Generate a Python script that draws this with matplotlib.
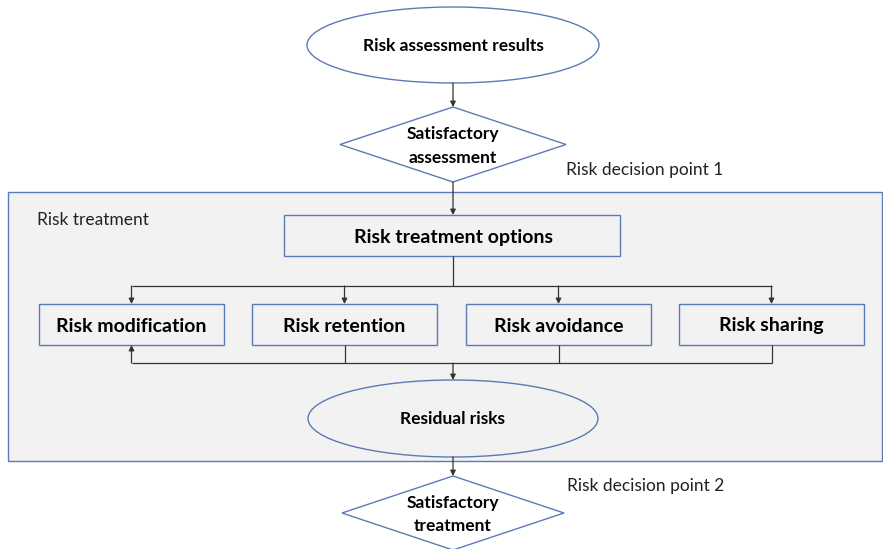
import matplotlib.pyplot as plt
from matplotlib.patches import Ellipse, Polygon, Rectangle

plt.rcParams['font.family'] = ['Lato', 'DejaVu Sans']

# node texts
start_label = 'Risk assessment results'
decision_labels = ['Satisfactory\nassessment', 'Satisfactory\ntreatment']
decision_notes = ['Risk decision point 1', 'Risk decision point 2']
group_label = 'Risk treatment'
options_label = 'Risk treatment options'
option_labels = ['Risk modification', 'Risk retention', 'Risk avoidance', 'Risk sharing']
residual_label = 'Residual risks'

EDGE = '#5b7bb4'
LINE = '#333333'
CX = 453

fig = plt.figure(figsize=(8.83, 5.49), dpi=100)
ax = fig.add_axes([0, 0, 1, 1])
ax.set_xlim(0, 883)
ax.set_ylim(549, 0)
ax.axis('off')


def arrow(x0, y0, x1, y1):
    ax.annotate('', xy=(x1, y1), xytext=(x0, y0),
                arrowprops=dict(arrowstyle='-|>', color=LINE, lw=0.9,
                                mutation_scale=8, shrinkA=0, shrinkB=0))


def line(xs, ys):
    ax.plot(xs, ys, color=LINE, lw=0.9, solid_capstyle='butt')


def diamond(cx, cy, w, h, text):
    ax.add_patch(Polygon([(cx, cy - h / 2), (cx + w / 2, cy), (cx, cy + h / 2), (cx - w / 2, cy)],
                         closed=True, facecolor='white', edgecolor=EDGE, lw=1.0, zorder=2))
    ax.text(cx, cy + 1.5, text, ha='center', va='center', fontsize=12.5, fontweight='bold',
            linespacing=1.55, zorder=3)


# group background
ax.add_patch(Rectangle((8, 192), 874, 269, facecolor='#f2f2f2', edgecolor=EDGE, lw=1.0, zorder=0))
ax.text(37, 220, group_label, ha='left', va='center', fontsize=12.5, color='#222222')

# start ellipse
ax.add_patch(Ellipse((CX, 45), 292, 76, facecolor='white', edgecolor=EDGE, lw=1.0, zorder=2))
ax.text(CX, 46, start_label, ha='center', va='center', fontsize=12.5, fontweight='bold', zorder=3)
arrow(CX, 83, CX, 107)

# decision 1
diamond(CX, 144.5, 226, 75, decision_labels[0])
ax.text(566, 170, decision_notes[0], ha='left', va='center', fontsize=12.5, color='#222222')
arrow(CX, 182, CX, 215)

# treatment options
ax.add_patch(Rectangle((284, 215), 336, 41, facecolor='none', edgecolor=EDGE, lw=1.0, zorder=2))
ax.text(CX, 237.5, options_label, ha='center', va='center', fontsize=14, fontweight='bold', zorder=3)

# option boxes
box_x = [39, 252, 466, 679]
box_w = 185
box_top, box_bot = 304, 345
centers = [x + box_w / 2 for x in box_x]
for x, c, lab in zip(box_x, centers, option_labels):
    ax.add_patch(Rectangle((x, box_top), box_w, box_bot - box_top, facecolor='none',
                           edgecolor=EDGE, lw=1.0, zorder=2))
    ax.text(c, (box_top + box_bot) / 2 + 1.5, lab, ha='center', va='center', fontsize=14,
            fontweight='bold', zorder=3)

# fan-out
line([CX, CX], [256, 286])
line([centers[0], centers[-1]], [286, 286])
for c in centers:
    arrow(c, 286, c, box_top)

# fan-in
line([centers[0], centers[-1]], [363, 363])
arrow(centers[0], 363, centers[0], box_bot)
for c in centers[1:]:
    line([c, c], [box_bot, 363])
arrow(CX, 363, CX, 380)

# residual risks
ax.add_patch(Ellipse((CX, 418.5), 290, 77, facecolor='none', edgecolor=EDGE, lw=1.0, zorder=2))
ax.text(CX, 419.5, residual_label, ha='center', va='center', fontsize=12.5, fontweight='bold', zorder=3)
arrow(CX, 457, CX, 476)

# decision 2
diamond(CX, 513, 222, 74, decision_labels[1])
ax.text(567, 486, decision_notes[1], ha='left', va='center', fontsize=12.5, color='#222222')

fig.savefig('out.png', dpi=100)
